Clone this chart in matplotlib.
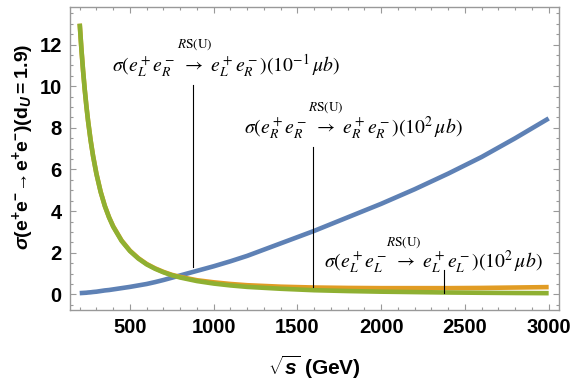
import numpy as np
import matplotlib
matplotlib.use("Agg")
import matplotlib.pyplot as plt
from matplotlib.ticker import MultipleLocator

# sqrt(s) in GeV and cross sections
sqrt_s = [200, 210, 220, 230, 240, 250, 265, 280, 300, 325, 350, 375, 400, 450,
          500, 550, 600, 650, 700, 750, 800, 900, 1000, 1100, 1200, 1400, 1600,
          1800, 2000, 2200, 2400, 2600, 2800, 3000]
sigma_RR = [0.06, 0.065, 0.07, 0.075, 0.08, 0.09, 0.10, 0.115, 0.13, 0.16, 0.19,
            0.21, 0.24, 0.30, 0.36, 0.43, 0.50, 0.59, 0.69, 0.80, 0.91, 1.13,
            1.35, 1.59, 1.85, 2.45, 3.05, 3.70, 4.35, 5.05, 5.80, 6.60, 7.50, 8.45]
sigma_LR = [13.0, 11.8, 10.75, 9.84, 9.04, 8.33, 7.41, 6.64, 5.79, 4.93, 4.25,
            3.71, 3.27, 2.59, 2.10, 1.74, 1.46, 1.25, 1.08, 0.94, 0.84, 0.68,
            0.58, 0.50, 0.44, 0.37, 0.33, 0.31, 0.30, 0.30, 0.30, 0.31, 0.33, 0.35]
sigma_LL = [13.0, 11.8, 10.75, 9.83, 9.03, 8.32, 7.40, 6.63, 5.78, 4.92, 4.24,
            3.70, 3.25, 2.57, 2.08, 1.72, 1.44, 1.23, 1.06, 0.92, 0.81, 0.64,
            0.52, 0.43, 0.36, 0.27, 0.20, 0.16, 0.13, 0.11, 0.09, 0.077, 0.066, 0.058]

BLUE = "#5E81B5"
ORANGE = "#E19C24"
GREEN = "#8FB032"

plt.rcParams["mathtext.fontset"] = "custom"
plt.rcParams["mathtext.rm"] = "Liberation Sans:bold"
plt.rcParams["mathtext.it"] = "Liberation Sans:italic:bold"
plt.rcParams["mathtext.bf"] = "Liberation Sans:bold"
plt.rcParams["font.family"] = "Liberation Sans"

fig = plt.figure(figsize=(5.7, 3.83), dpi=100)
ax = fig.add_axes([0.1228, 0.1906, 0.858, 0.791])

ax.plot(sqrt_s, sigma_RR, color=BLUE, lw=3.3, solid_capstyle="butt")
ax.plot(sqrt_s, sigma_LR, color=ORANGE, lw=3.3, solid_capstyle="butt")
ax.plot(sqrt_s, sigma_LL, color=GREEN, lw=3.3, solid_capstyle="butt")

ax.set_xlim(142, 3062)
ax.set_ylim(-0.75, 13.8)

ax.xaxis.set_major_locator(MultipleLocator(500))
ax.xaxis.set_minor_locator(MultipleLocator(100))
ax.yaxis.set_major_locator(MultipleLocator(2))
ax.yaxis.set_minor_locator(MultipleLocator(0.5))
ax.tick_params(which="both", direction="in", top=True, right=True,
               color="#999999", width=0.8)
ax.tick_params(which="major", length=4.5, labelsize=14.5, pad=6)
ax.tick_params(which="minor", length=2.5)
for lab in ax.get_xticklabels() + ax.get_yticklabels():
    lab.set_fontweight("bold")
for sp in ax.spines.values():
    sp.set_color("#999999")
    sp.set_linewidth(1.0)

ax.set_xlabel(r"$\sqrt{s}$ (GeV)", fontsize=15, fontweight="bold", labelpad=12)
ax.set_ylabel(r"$\sigma(\mathrm{e^{+}e^{-}}\!\rightarrow\!\mathrm{e^{+}e^{-}})(\mathrm{d}_{U}\mathrm{=1.9})$",
              fontsize=14, labelpad=2)
ax.yaxis.set_label_coords(-0.07, 0.54)

# annotations: label text, label centre, RS(U) position, pointer line (x, y_top, y_bottom)
labels = [
    r"$\sigma(e_L^+e_R^-\ \rightarrow\ e_L^+e_R^-)(10^{-1}\,\mu b)$",
    r"$\sigma(e_R^+e_R^-\ \rightarrow\ e_R^+e_R^-)(10^{2}\,\mu b)$",
    r"$\sigma(e_L^+e_L^-\ \rightarrow\ e_L^+e_L^-)(10^{2}\,\mu b)$",
]
label_xy = [(1074, 10.95), (1834, 7.98), (2312, 1.55)]
rs_xy = [(889, 12.0), (1666, 8.96), (2133, 2.5)]
pointer = [(877, 10.07, 1.3), (1594, 7.08, 0.36), (2378, 1.16, 0.05)]

for txt, (lx, ly), (rx, ry), (px, pt, pb) in zip(labels, label_xy, rs_xy, pointer):
    ax.text(lx, ly, txt, fontsize=14.2, ha="center", va="center", math_fontfamily="stix")
    ax.text(rx, ry, r"$R\mathrm{S(U)}$", fontsize=9.5, ha="center", va="center",
            math_fontfamily="stix")
    ax.plot([px, px], [pt, pb], color="black", lw=0.8)

fig.savefig("out.png", dpi=100)
